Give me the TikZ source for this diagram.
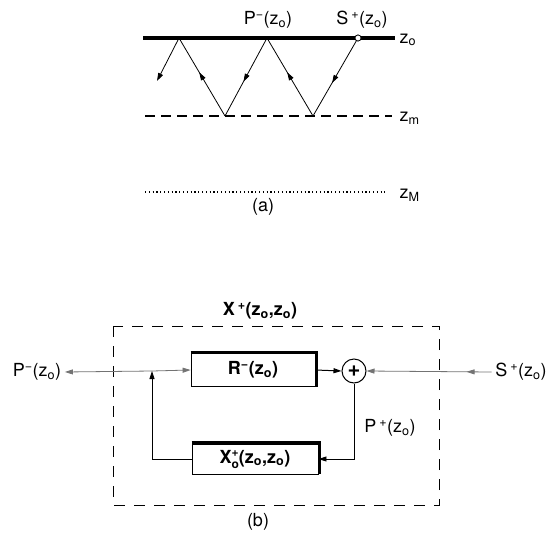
\documentclass[tikz,border=0pt]{standalone}
\usepackage{fontspec}
\setmainfont{TeX Gyre Heros}
\usetikzlibrary{positioning, calc, arrows.meta, decorations.markings}

\newcommand{\zsub}[1]{z\textsubscript{#1}}
\newcommand{\supsub}[2]{\raisebox{-5pt}{\fontsize{12}{11}\selectfont\shortstack[l]{#1\\[1.5pt]#2}}}

\begin{document}
\begin{tikzpicture}[x=1pt, y=-1pt, line width=0.8pt,
    font=\fontsize{18}{21}\selectfont,
    >={Triangle[length=8pt,width=5pt]},
    midarrow/.style={postaction={decorate},
      decoration={markings, mark=at position 0.56 with {\arrow{Triangle[length=8pt,width=5pt]}}}},
    srccircle/.style={circle, draw, fill=white, inner sep=0pt, minimum size=6pt, line width=0.7pt},
    blockbox/.style={draw, rectangle, minimum width=124pt, minimum height=32pt, inner sep=0pt, font=\fontsize{18}{21}\selectfont\bfseries},
    sumnode/.style={circle, draw, line width=1pt, minimum size=24pt, inner sep=0pt, font=\fontsize{22}{22}\selectfont\bfseries},
    feed/.style={draw=black!55, line width=0.8pt}]
  \useasboundingbox (0,0) rectangle (551,535);

  % ---------- (a) reflections between z_o and z_m ----------
  \draw[line width=4pt] (143,38) -- (395,38);
  \draw[line width=1.3pt, dash pattern=on 10pt off 6pt] (145,116) -- (392,116);
  \draw[line width=1.2pt, dash pattern=on 1.2pt off 2.6pt] (145,192) -- (385,192);

  \coordinate (t1) at (179,38);
  \coordinate (t2) at (267,38);
  \coordinate (b1) at (225,116);
  \coordinate (b2) at (313,116);
  \coordinate (tail) at (157,81);
  \node[srccircle] (src) at (358,38) {};

  \draw[midarrow] (src) -- (b2);
  \draw[midarrow] (b2) -- (t2);
  \draw[midarrow] (t2) -- (b1);
  \draw[midarrow] (b1) -- (t1);
  \draw[->] (t1) -- (tail);
  \node[srccircle] at (src) {};

  % labels of (a)
  \node (Pmtop) at (268,20) {P\textsuperscript{−}(\zsub{o})};
  \node (Sptop) at (362,20) {S\,\textsuperscript{+}(\zsub{o})};
  \node[anchor=west] (zo) at (396,40) {\zsub{o}};
  \node[anchor=west] (zm) at (396,118) {\zsub{m}};
  \node[anchor=west] (zM) at (396,195) {\zsub{M}};
  \node (capa) at (263,207) {(a)};

  % ---------- (b) block diagram ----------
  \draw[dash pattern=on 11pt off 9pt, line width=0.8pt] (113,326) rectangle (439,505);
  \node (Xlab) at (260,311) {\textbf{X\,\textsuperscript{+}(\zsub{o},\zsub{o})}};

  \node[blockbox, minimum height=33pt] (R) at (253,370) {R\textsuperscript{−}(\zsub{o})};
  \draw[line width=3pt] ($(R.north west)+(0,-1)$) -- ($(R.north east)+(1,-1)$) -- ($(R.south east)+(1,0)$);

  \node[blockbox, minimum width=126pt, minimum height=30pt] (X) at (255,459)
    {X\supsub{+}{o}(\zsub{o},\zsub{o})};
  \draw[line width=3pt] ($(X.north west)+(0,-1)$) -- ($(X.north east)+(1,-1)$) -- ($(X.south east)+(1,0)$);

  \node[sumnode] (sum) at (354,371) {+};

  \node (Pm) at (37,372) {P\textsuperscript{−}(\zsub{o})};
  \node (Sp) at (521,372) {S\,\textsuperscript{+}(\zsub{o})};
  \node (Pp) at (390,428) {P\,\textsuperscript{+}(\zsub{o})};
  \node (capb) at (258,522) {(b)};

  \coordinate (jn) at (152,371);
  \coordinate (cnr) at (152,459);
  \coordinate (drop) at (354,459);

  % connectors
  \draw[feed, ->] (jn) -- (R.west);
  \draw[feed, ->] (jn) -- (Pm.east);
  \draw[line width=1pt, ->] (R.east) -- (sum.west);
  \draw[feed, ->, postaction={decorate},
    decoration={markings, mark=at position 0.2 with {\arrow{Triangle[length=8pt,width=5pt]}}}]
    (Sp.west) -- (sum.east);
  \draw[->] (sum.south) -- (drop) -- (X.east);
  \draw[->] (X.west) -- (cnr) -- (jn);
\end{tikzpicture}
\end{document}
